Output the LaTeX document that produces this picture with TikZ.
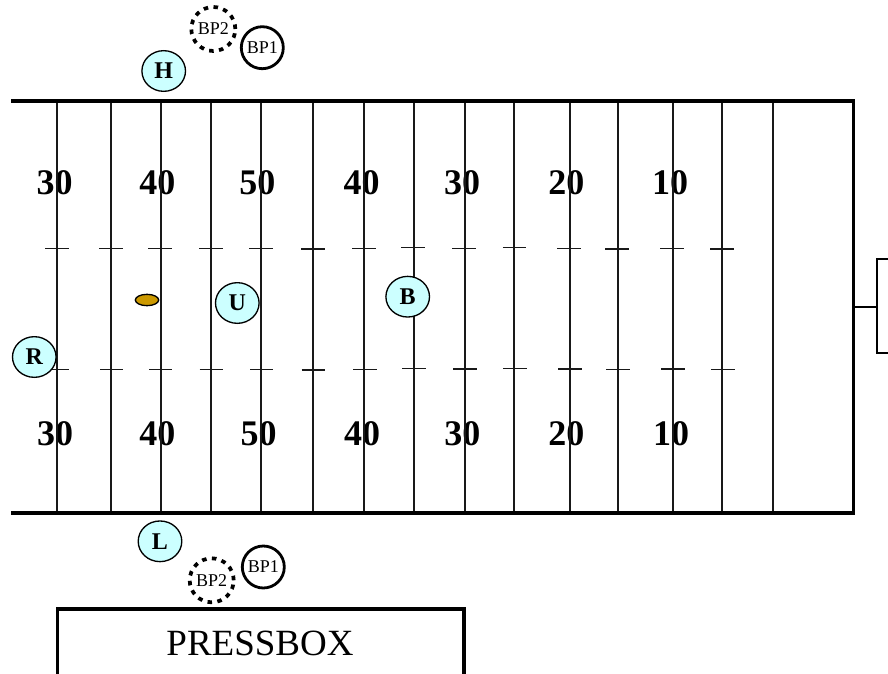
\documentclass[tikz,border=0pt]{standalone}
\usepackage{fontspec}
\setmainfont{Liberation Serif}
\usetikzlibrary{shapes.geometric}
\definecolor{playerfill}{HTML}{CCFFFF}
\definecolor{ballfill}{HTML}{CC9900}
\tikzset{
  yardline/.style={line width=1.25pt,black!90},
  hashline/.style={line width=1pt,black!90},
  fieldedge/.style={line width=2.7pt,black},
  yardnum/.style={anchor=base,inner sep=0pt,font=\fontsize{27}{27}\selectfont\bfseries},
  player/.style={ellipse,draw=black,line width=1pt,fill=playerfill,minimum width=32.7pt,minimum height=30.5pt,inner sep=0pt,font=\fontsize{18}{18}\selectfont\bfseries},
  bpone/.style={circle,draw=black,line width=2.1pt,minimum size=31.5pt,inner sep=0pt,font=\fontsize{13.5}{13.5}\selectfont},
  bptwo/.style={circle,draw=black,line width=2.8pt,dash pattern=on 3.4pt off 4.05pt,minimum size=33pt,inner sep=0pt,font=\fontsize{13.5}{13.5}\selectfont},
}
\begin{document}
\begin{tikzpicture}[x=0.75pt,y=-0.75pt]
\useasboundingbox (0,0) rectangle (888,674);
% yard numbers
\foreach \n/\x/\t in {a/54.5/30,b/157.3/40,c/257.3/50,d/361.7/40,e/462/30,f/566.3/20,g/670/10}
  \node[yardnum] (top\n) at (\x,194.5) {\t};
\foreach \n/\x/\t in {a/55/30,b/157.3/40,c/258.7/50,d/362/40,e/462.3/30,f/566.3/20,g/671/10}
  \node[yardnum] (bot\n) at (\x,445.3) {\t};
% yard lines
\foreach \x in {57,111,161,211,261,313,364,414,464.7,514.3,570,617.7,672.7,722.3,773.3}
  \draw[yardline] (\x,100.7) -- (\x,512.7);
% hash marks
\foreach \x/\y in {57/248.3,111/248.3,160/248.3,211/248.3,261/248.3,313/249,364/248.3,413/247.8,464/248.3,514.5/247.7,569/248.3,617/249,672/248.3,722/249}
  \draw[hashline] (\x-11.7,\y) -- (\x+11.7,\y);
\foreach \x/\y in {57.7/369.3,111.7/369.3,160.7/369.3,211.3/369.3,261.7/369.3,313.3/370,365/369.3,414/368.5,465/369,515/368.5,570/369,618/369.7,673/369,723/369.5}
  \draw[hashline] (\x-11.7,\y) -- (\x+11.7,\y);
% field boundary
\draw[fieldedge,line join=miter] (11,100.7) -- (853.3,100.7) -- (853.3,512.7) -- (11,512.7);
% goal post
\coordinate (goalbase) at (853.3,306.7);
\coordinate (goalmid) at (877.3,306.7);
\draw[line width=1.25pt] (goalbase) -- (goalmid);
\draw[line width=1.25pt] (888,259) -- (877.3,259) -- (877.3,353) -- (888,353);
% press box
\draw[line width=2.3pt] (57.5,674) -- (57.5,609) -- (464,609) -- (464,674);
\node[anchor=base,inner sep=0pt,font=\fontsize{27.75}{27.75}\selectfont] (pressbox) at (260,655) {PRESSBOX};
% players
\node[player] (H) at (163.7,71) {H};
\node[player] (U) at (237.3,303) {U};
\node[player] (B) at (407.7,296.7) {B};
\node[player] (R) at (34.3,357) {R};
\node[player] (L) at (160,541.3) {L};
% ball
\node[ellipse,draw=black,line width=1pt,fill=ballfill,minimum width=17.5pt,minimum height=8.5pt,inner sep=0pt] (ball) at (147,300) {};
% back positions
\node[bpone] (bp1top) at (262.3,47.7) {BP1};
\node[bpone] (bp1bot) at (263.3,567) {BP1};
\node[bptwo] (bp2top) at (213.3,29) {BP2};
\node[bptwo] (bp2bot) at (211.7,580.3) {BP2};
\end{tikzpicture}
\end{document}
